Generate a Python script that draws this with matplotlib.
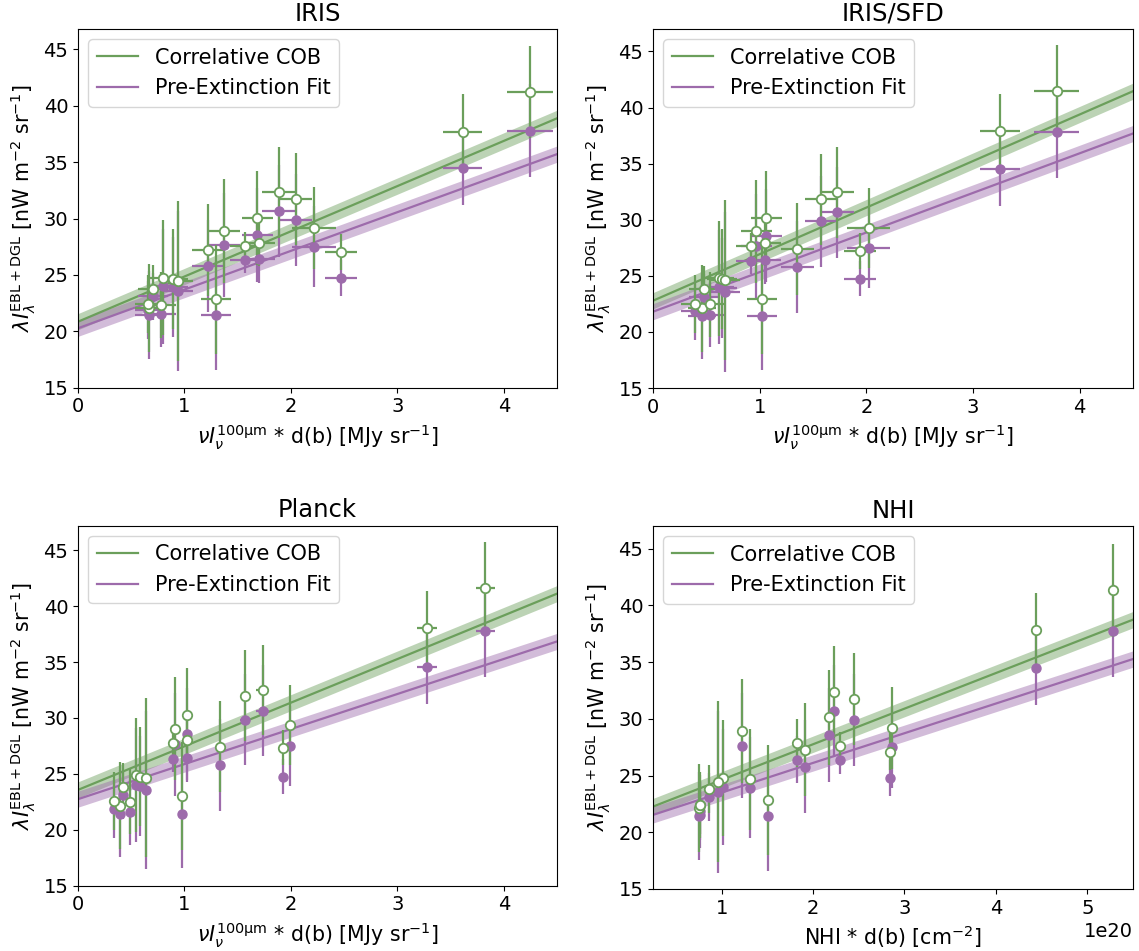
import numpy as np
import matplotlib
matplotlib.use('Agg')
import matplotlib.pyplot as plt

# colours of the two fits
green = '#6b9f5b'
purple = '#9d6bab'

# 19 fields, same order in every panel
# pre-extinction values are the same for all tracers
pre_y = [21.45, 21.89, 21.55, 21.43, 23.10, 24.00, 23.92, 23.55, 25.77, 27.65,
         26.33, 28.56, 26.41, 30.66, 29.86, 27.50, 24.76, 34.52, 37.78]
y_err = [3.9, 2.6, 2.9, 4.85, 2.1, 5.1, 4.45, 7.1, 4.1, 4.6,
         1.2, 4.15, 2.1, 4.05, 4.05, 3.6, 1.6, 3.3, 4.1]

# IRIS
iris_x = [0.668, 0.662, 0.781, 1.296, 0.703, 0.796, 0.890, 0.943, 1.224, 1.374,
          1.568, 1.684, 1.702, 1.890, 2.052, 2.218, 2.468, 3.614, 4.248]
iris_xerr = [0.13, 0.13, 0.14, 0.137, 0.14, 0.14, 0.14, 0.14, 0.155, 0.147,
             0.14, 0.147, 0.15, 0.16, 0.15, 0.203, 0.15, 0.184, 0.215]
iris_cob = [22.09, 22.42, 22.33, 22.83, 23.75, 24.75, 24.64, 24.49, 27.21, 28.86,
            27.56, 30.07, 27.86, 32.32, 31.73, 29.16, 27.06, 37.70, 41.21]

# IRIS/SFD
sfd_x = [0.459, 0.391, 0.531, 1.022, 0.481, 0.616, 0.647, 0.678, 1.351, 0.969,
         0.922, 1.063, 1.053, 1.726, 1.576, 2.023, 1.938, 3.252, 3.783]
sfd_xerr = iris_xerr
sfd_cob = [22.10, 22.49, 22.46, 22.90, 23.79, 24.77, 24.70, 24.63, 27.36, 28.96,
           27.66, 30.18, 27.95, 32.44, 31.84, 29.26, 27.21, 37.91, 41.44]

# Planck
planck_x = [0.396, 0.334, 0.484, 0.978, 0.421, 0.543, 0.584, 0.637, 1.334, 0.915,
            0.896, 1.027, 1.021, 1.734, 1.565, 1.993, 1.930, 3.280, 3.827]
planck_xerr = [0.02, 0.02, 0.02, 0.02, 0.02, 0.02, 0.02, 0.02, 0.035, 0.03,
               0.03, 0.035, 0.03, 0.06, 0.04, 0.04, 0.035, 0.097, 0.09]
planck_cob = [22.17, 22.58, 22.52, 23.03, 23.87, 24.91, 24.76, 24.67, 27.45, 29.03,
              27.75, 30.29, 28.05, 32.52, 31.99, 29.39, 27.36, 38.05, 41.63]

# NHI, x in units of 1e20 cm^-2
nhi_x = [0.752, 0.766, 0.759, 1.504, 0.858, 1.015, 1.310, 0.964, 1.909, 1.226,
         2.300, 2.172, 1.821, 2.227, 2.446, 2.869, 2.840, 4.439, 5.279]
nhi_cob = [22.12, 22.41, 22.38, 22.86, 23.80, 24.77, 24.68, 24.47, 27.27, 28.92,
           27.62, 30.12, 27.86, 32.36, 31.77, 29.21, 27.12, 37.80, 41.33]

# fits: (intercept, slope) for COB and pre-extinction, band half width
iris_fit = [(20.85, 4.007), (20.27, 3.43)]
sfd_fit = [(22.78, 4.15), (21.80, 3.53)]
planck_fit = [(23.57, 3.90), (22.74, 3.135)]
nhi_fit = [(21.48, 3.139), (20.88, 2.617)]
band = 0.72

ylab = r'$\lambda I_\lambda^{\mathrm{EBL+DGL}}$ [nW m$^{-2}$ sr$^{-1}$]'
xlab_ir = r'$\nu I_\nu^{\mathrm{100μm}}$ * d(b) [MJy sr$^{-1}$]'
xlab_nhi = r'NHI * d(b) [cm$^{-2}$]'

W, H = 1139, 951
fig = plt.figure(figsize=(W / 100, H / 100), dpi=100)

# name, x, xerr, cob, fit, xscale, xlim, ylim, box (left, right, top, bottom px), xlabel
panels = [
    ('IRIS', iris_x, iris_xerr, iris_cob, iris_fit, 1, (0, 4.5), (15, 46.8), (78, 557, 29, 387.7), xlab_ir),
    ('IRIS/SFD', sfd_x, sfd_xerr, sfd_cob, sfd_fit, 1, (0, 4.5), (15, 47.0), (653, 1133, 29, 388), xlab_ir),
    ('Planck', planck_x, planck_xerr, planck_cob, planck_fit, 1, (0, 4.5), (15, 47.2), (78, 557, 525.7, 885.7), xlab_ir),
    ('NHI', nhi_x, None, nhi_cob, nhi_fit, 1e20, (0.25, 5.5), (15, 47.0), (653, 1133, 526, 889), xlab_nhi),
]

for name, x, xerr, cob, fit, sc, xlim, ylim, box, xlabel in panels:
    l, r, t, b = box
    ax = fig.add_axes([l / W, 1 - b / H, (r - l) / W, (b - t) / H])
    xx = np.array(xlim)
    (ag, bg), (ap, bp) = fit
    yg = ag + bg * xx
    yp = ap + bp * xx
    ax.fill_between(xx * sc, yg - band, yg + band, color=green, alpha=0.45, lw=0)
    ax.fill_between(xx * sc, yp - band, yp + band, color=purple, alpha=0.45, lw=0)
    ax.plot(xx * sc, yg, color=green, lw=1.6, label='Correlative COB')
    ax.plot(xx * sc, yp, color=purple, lw=1.6, label='Pre-Extinction Fit')

    xs = np.array(x) * sc
    xe = None if xerr is None else np.array(xerr) * sc
    ax.errorbar(xs, pre_y, xerr=xe, yerr=y_err, fmt='o', color=purple, ms=6.5,
                elinewidth=1.6, capsize=0)
    ax.errorbar(xs, cob, xerr=xe, yerr=y_err, fmt='o', color=green, mfc='white',
                mec=green, mew=1.3, ms=6.8, elinewidth=1.6, capsize=0)

    ax.set_xlim(xlim[0] * sc, xlim[1] * sc)
    ax.set_ylim(*ylim)
    ax.set_yticks([15, 20, 25, 30, 35, 40, 45])
    if sc == 1:
        ax.set_xticks([0, 1, 2, 3, 4])
    ax.tick_params(labelsize=14)
    ax.xaxis.get_offset_text().set_fontsize(14)
    ax.set_title(name, fontsize=17.5)
    ax.set_xlabel(xlabel, fontsize=14.8)
    ax.set_ylabel(ylab, fontsize=14.8)
    ax.legend(loc='upper left', fontsize=15)

plt.savefig('out.png', dpi=100)
